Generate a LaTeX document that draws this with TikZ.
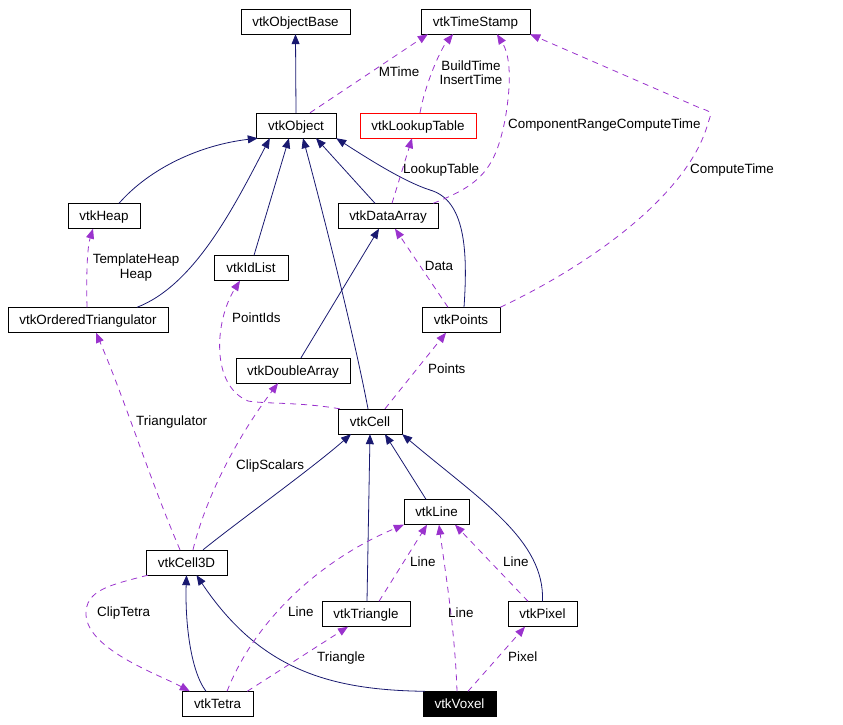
\documentclass[tikz,border=0pt]{standalone}
\usepackage{fontspec}
\setmainfont{Liberation Sans}
\usetikzlibrary{arrows.meta}
\definecolor{navyline}{RGB}{25,25,112}
\definecolor{usecolor}{RGB}{154,50,205}
\tikzset{
        >={Triangle[length=10pt,width=8pt]}, % filled heads as in doxygen
        cls/.style={draw, rectangle, minimum height=25pt, inner sep=0pt,
                text height=9.6pt, text depth=0pt, font=\fontsize{13.4}{15}\selectfont},
        lbl/.style={inner sep=0pt, text height=9.6pt, text depth=0pt, font=\fontsize{13.4}{15}\selectfont},
        lbltwo/.style={inner sep=0pt, align=center, font=\fontsize{13.4}{14.5}\selectfont},
        inherit/.style={->, draw=navyline, line width=0.8pt},
        uses/.style={->, draw=usecolor, line width=0.8pt, dash pattern=on 6pt off 5pt}
        }
\begin{document}
\begin{tikzpicture}[x=1pt, y=-1pt]
        \useasboundingbox (0,0) rectangle (843,724);
        % classes
        \node[cls, minimum width=109pt](objbase) at (295.5,21.5){vtkObjectBase};
        \node[cls, minimum width=109pt](timestamp) at (475.5,21.5){vtkTimeStamp};
        \node[cls, minimum width=80pt](object) at (296,125.5){vtkObject};
        \node[cls, minimum width=116pt, draw=red](lookup) at (418,125.5){vtkLookupTable};
        \node[cls, minimum width=72pt](heap) at (104,216){vtkHeap};
        \node[cls, minimum width=100pt](dataarray) at (388,216){vtkDataArray};
        \node[cls, minimum width=74pt](idlist) at (251,268){vtkIdList};
        \node[cls, minimum width=160pt](ordtri) at (88,320){vtkOrderedTriangulator};
        \node[cls, minimum width=78pt](points) at (461,320){vtkPoints};
        \node[cls, minimum width=114pt](doublearr) at (293,370.5){vtkDoubleArray};
        \node[cls, minimum width=64pt](cell) at (370,421.5){vtkCell};
        \node[cls, minimum width=65pt](line) at (436.5,512){vtkLine};
        \node[cls, minimum width=81pt](cell3d) at (186.5,562.5){vtkCell3D};
        \node[cls, minimum width=88pt](triangle) at (366,614){vtkTriangle};
        \node[cls, minimum width=69pt](pixel) at (542.5,614){vtkPixel};
        \node[cls, minimum width=71pt](tetra) at (217.5,704){vtkTetra};
        \node[cls, minimum width=73pt, fill=black, text=white](voxel) at (459.5,704){vtkVoxel};

        % inheritance
        \draw[inherit] (object.north) -- (objbase.south);
        \draw[inherit] ([xshift=15pt]heap.north) .. controls (150,168) and (200,145) .. ([xshift=2pt]object.south west);
        \draw[inherit] ([xshift=49pt]ordtri.north) .. controls (195,285) and (235,205) .. ([xshift=14pt]object.south west);
        \draw[inherit] ([xshift=3pt]idlist.north) -- ([xshift=-7pt]object.south);
        \draw[inherit] ([xshift=-2pt]cell.north) .. controls (355,340) and (325,220) .. ([xshift=7pt]object.south);
        \draw[inherit] ([xshift=-13pt]dataarray.north) -- ([xshift=20pt]object.south);
        \draw[inherit] ([xshift=3pt]points.north) .. controls (468,250) and (465,200) .. (430,190)
              .. controls (405,182) and (370,160) .. (object.south east);
        \draw[inherit] ([xshift=8pt]doublearr.north) -- ([xshift=-9pt]dataarray.south);
        \draw[inherit] ([xshift=16.5pt]cell3d.north) .. controls (240,520) and (310,470) .. ([xshift=-19pt]cell.south);
        \draw[inherit] ([xshift=1pt]triangle.north) -- (cell.south);
        \draw[inherit] ([xshift=-10.5pt]line.north) -- ([xshift=15pt]cell.south);
        \draw[inherit] (pixel.north) .. controls (545,540) and (480,500) .. (cell.south east);
        \draw[inherit] ([xshift=-11.5pt]tetra.north) .. controls (190,670) and (185,620) .. (cell3d.south);
        \draw[inherit] ([xshift=2pt]voxel.north west) .. controls (330,690) and (260,670) .. ([xshift=10pt]cell3d.south);

        % usage
        \draw[uses] ([xshift=14pt]object.north) -- ([xshift=7pt]timestamp.south west);
        \draw[uses] ([xshift=2pt]lookup.north) .. controls (425,85) and (440,50) .. ([xshift=-22.5pt]timestamp.south);
        \draw[uses] ([xshift=-5pt]dataarray.north east) .. controls (480,185) and (495,170) .. (505,120)
              .. controls (512,80) and (510,55) .. ([xshift=21.5pt]timestamp.south);
        \draw[uses] (points.north east) .. controls (600,260) and (690,190) .. (708,123)
              .. controls (712,112) .. (700,108) -- (timestamp.south east);
        \draw[uses] ([xshift=4pt]dataarray.north) -- ([xshift=-6pt]lookup.south);
        \draw[uses] ([xshift=-1pt]ordtri.north) .. controls (86,265) and (88,245) .. ([xshift=-11pt]heap.south);
        \draw[uses] ([xshift=-13pt]points.north) -- ([xshift=7pt]dataarray.south);
        \draw[uses] ([xshift=2pt]cell.north west) .. controls (300,402) and (265,404) .. (248,401)
              .. controls (210,385) and (215,320) .. ([xshift=-11pt]idlist.south);
        \draw[uses] ([xshift=15pt]cell.north) -- ([xshift=-15pt]points.south);
        \draw[uses] ([xshift=-6.5pt]cell3d.north) .. controls (150,480) and (125,400) .. ([xshift=8pt]ordtri.south);
        \draw[uses] ([xshift=6.5pt]cell3d.north) .. controls (205,500) and (235,440) .. ([xshift=-15pt]doublearr.south);
        \draw[uses] ([xshift=2pt]cell3d.south west) .. controls (110,585) and (85,590) .. (86,615)
              .. controls (88,650) and (160,675) .. ([xshift=8pt]tetra.north west);
        \draw[uses] ([xshift=9.5pt]tetra.north) .. controls (255,620) and (320,560) .. (line.south west);
        \draw[uses] ([xshift=-6pt]tetra.north east) -- ([xshift=-18pt]triangle.south);
        \draw[uses] ([xshift=13pt]triangle.north) -- ([xshift=-9.5pt]line.south);
        \draw[uses] ([xshift=-2.5pt]voxel.north) .. controls (455,630) and (445,570) .. ([xshift=2.5pt]line.south);
        \draw[uses] ([xshift=-14.5pt]pixel.north) -- ([xshift=18.5pt]line.south);
        \draw[uses] ([xshift=8.5pt]voxel.north) -- ([xshift=-17.5pt]pixel.south);

        % labels
        \node[lbl](lMTime) at (399,72){MTime};
        \node[lbltwo](lBuild) at (471,72.5){BuildTime\\InsertTime};
        \node[lbl, anchor=west](lRange) at (508,124){ComponentRangeComputeTime};
        \node[lbl, anchor=west](lCompute) at (690,169){ComputeTime};
        \node[lbl, anchor=west](lLookup) at (403,169){LookupTable};
        \node[lbltwo](lHeap) at (136,267.5){TemplateHeap\\Heap};
        \node[lbl](lData) at (439,266){Data};
        \node[lbl, anchor=west](lPointIds) at (232,318){PointIds};
        \node[lbl, anchor=west](lPoints) at (428,369){Points};
        \node[lbl, anchor=west](lTriang) at (136,421){Triangulator};
        \node[lbl, anchor=west](lClipS) at (236,465){ClipScalars};
        \node[lbl, anchor=west](lClipT) at (97,612){ClipTetra};
        \node[lbl, anchor=west](lLineA) at (288,612){Line};
        \node[lbl, anchor=west](lTri) at (317,657){Triangle};
        \node[lbl, anchor=west](lLineB) at (410,562){Line};
        \node[lbl, anchor=west](lLineC) at (448,613){Line};
        \node[lbl, anchor=west](lLineD) at (503,562){Line};
        \node[lbl, anchor=west](lPixel) at (508,657){Pixel};
\end{tikzpicture}
\end{document}
